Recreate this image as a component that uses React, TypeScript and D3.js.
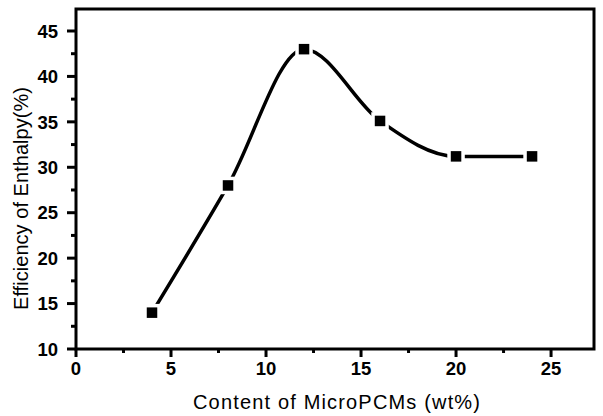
import React from "react";
import * as d3 from "d3";

const xValues = [4, 8, 12, 16, 20, 24];
const yValues = [14, 28, 43, 35.1, 31.2, 31.2];
const xTicks = [0, 5, 10, 15, 20, 25];
const yTicks = [10, 15, 20, 25, 30, 35, 40, 45];
const xMinorTicks = [2.5, 7.5, 12.5, 17.5, 22.5];
const yMinorTicks = [12.5, 17.5, 22.5, 27.5, 32.5, 37.5, 42.5];
const xTitle = "Content of MicroPCMs (wt%)";
const yTitle = "Efficiency of Enthalpy(%)";

const W = 603;
const H = 416;
const L = 76, R = 594, T = 9, B = 349;

export default function App() {
  const x = d3.scaleLinear().domain([0, 27.26]).range([L, R]);
  const y = d3.scaleLinear().domain([10, 47.42]).range([B, T]);
  const pts: [number, number][] = xValues.map((v, i) => [v, yValues[i]]);
  const line = d3
    .line<[number, number]>()
    .x((d) => x(d[0]))
    .y((d) => y(d[1]))
    .curve(d3.curveMonotoneX);
  const font = "'Liberation Sans', Arial, sans-serif";
  const ms = 10.5;
  return (
    <svg
      width={W}
      height={H}
      style={{ position: "absolute", left: 0, top: 0, background: "#fff" }}
    >
      <rect x={0} y={0} width={W} height={H} fill="#fff" />
      <path d={line(pts) || ""} fill="none" stroke="#000" strokeWidth={3.5} />
      {pts.map((d, i) => (
        <rect
          key={"w" + i}
          x={x(d[0]) - ms / 2 - 3.5}
          y={y(d[1]) - ms / 2 - 3.5}
          width={ms + 7}
          height={ms + 7}
          fill="#fff"
        />
      ))}
      {pts.map((d, i) => (
        <rect
          key={"m" + i}
          x={x(d[0]) - ms / 2}
          y={y(d[1]) - ms / 2}
          width={ms}
          height={ms}
          fill="#000"
        />
      ))}
      <rect x={L} y={T} width={R - L} height={B - T} fill="none" stroke="#000" strokeWidth={3} />
      {xTicks.map((t) => (
        <g key={"xt" + t}>
          <line x1={x(t)} x2={x(t)} y1={B} y2={B + 8} stroke="#000" strokeWidth={3} />
          <text
            x={x(t)}
            y={375}
            textAnchor="middle"
            fontFamily={font}
            fontWeight="bold"
            fontSize={18.5}
            fill="#000"
          >
            {t}
          </text>
        </g>
      ))}
      {xMinorTicks.map((t) => (
        <line key={"xm" + t} x1={x(t)} x2={x(t)} y1={B} y2={B + 4} stroke="#000" strokeWidth={3} />
      ))}
      {yTicks.map((t) => (
        <g key={"yt" + t}>
          <line x1={L - 9} x2={L} y1={y(t)} y2={y(t)} stroke="#000" strokeWidth={3} />
          <text
            x={58}
            y={y(t)}
            dy="0.36em"
            textAnchor="end"
            fontFamily={font}
            fontWeight="bold"
            fontSize={18.5}
            fill="#000"
          >
            {t}
          </text>
        </g>
      ))}
      {yMinorTicks.map((t) => (
        <line key={"ym" + t} x1={L - 5} x2={L} y1={y(t)} y2={y(t)} stroke="#000" strokeWidth={3} />
      ))}
      <text
        x={336.5}
        y={409}
        textAnchor="middle"
        fontFamily={font}
        fontSize={20}
        fill="#000"
        textLength={287}
        lengthAdjust="spacing"
      >
        {xTitle}
      </text>
      <text
        transform="translate(28,198.5) rotate(-90)"
        textAnchor="middle"
        fontFamily={font}
        fontSize={20}
        fill="#000"
        textLength={223}
        lengthAdjust="spacing"
      >
        {yTitle}
      </text>
    </svg>
  );
}
